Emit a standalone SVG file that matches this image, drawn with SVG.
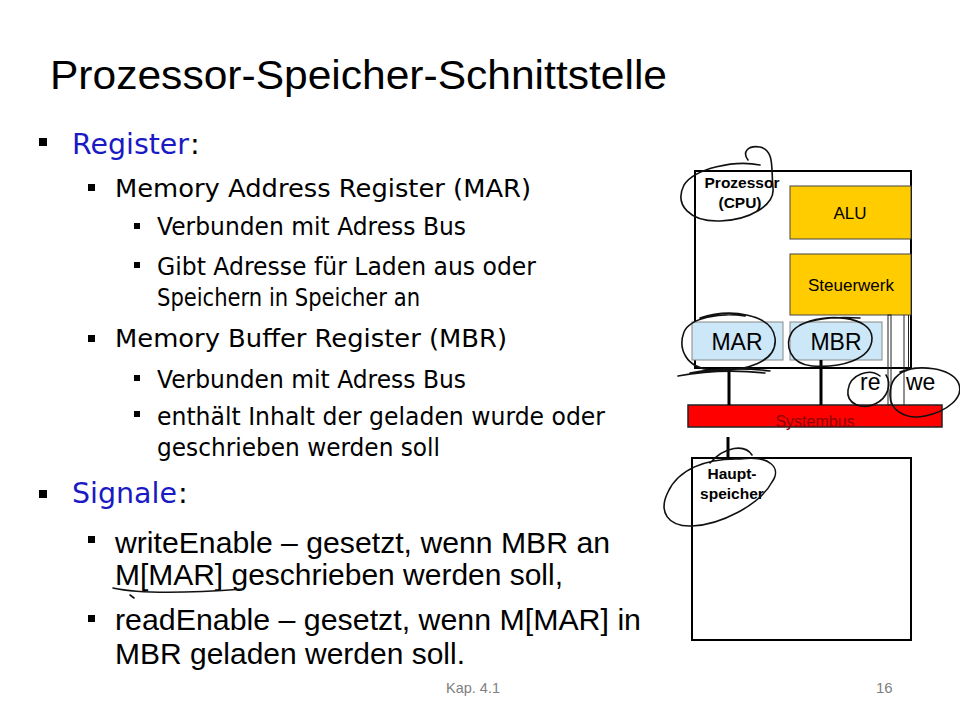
<svg xmlns="http://www.w3.org/2000/svg" width="960" height="720" viewBox="0 0 960 720">
<style>
.title{font-family:"Liberation Sans",Arial,sans-serif;font-size:40px;fill:#000}
.l1{font-family:"DejaVu Sans",Verdana,sans-serif;font-size:29px;fill:#000}
.blue{fill:#1a1ac4}
.l2{font-family:"DejaVu Sans",Verdana,sans-serif;font-size:25px;fill:#000}
.l3{font-family:"DejaVu Sans",Verdana,sans-serif;font-size:24px;fill:#000}
.sg{font-family:"Liberation Sans",Arial,sans-serif;font-size:30px;fill:#000}
.foot{font-family:"Liberation Sans",Arial,sans-serif;font-size:15px;fill:#808080}
.lbl{font-family:"Liberation Sans",Arial,sans-serif;fill:#000;text-anchor:middle}
.bold{font-weight:bold;font-size:15.5px}
.unit{fill:#ffcc00;stroke:#444;stroke-width:1}
.reg{fill:#cce7f7;stroke:#888;stroke-width:1}
.box{fill:#fff;stroke:#000;stroke-width:2}
.wire{stroke:#000;stroke-width:3;fill:none}
.thin{stroke:#222;stroke-width:1;fill:none}
.ink{stroke:#111;stroke-width:1.6;fill:none;stroke-linecap:round}
</style>
<rect width="960" height="720" fill="#fff"/>

<g id="slide-text">
<text class="title" x="50" y="89" textLength="617" lengthAdjust="spacingAndGlyphs">Prozessor-Speicher-Schnittstelle</text>
<rect x="39" y="138" width="8" height="8" fill="#000"/>
<text class="l1 blue" x="72" y="154" textLength="117" lengthAdjust="spacingAndGlyphs">Register</text>
<text class="l1" x="190" y="154">:</text>
<rect x="88" y="184" width="7" height="7" fill="#000"/>
<text class="l2" x="115" y="197" textLength="416" lengthAdjust="spacingAndGlyphs">Memory  Address  Register (MAR)</text>
<rect x="134" y="223" width="6" height="6" fill="#000"/>
<text class="l3" x="157" y="235" textLength="309" lengthAdjust="spacingAndGlyphs">Verbunden mit Adress Bus</text>
<rect x="134" y="262" width="6" height="6" fill="#000"/>
<text class="l3" x="157" y="275" textLength="379" lengthAdjust="spacingAndGlyphs">Gibt Adresse für Laden aus oder</text>
<text class="l3" x="157" y="306" textLength="263" lengthAdjust="spacingAndGlyphs">Speichern in Speicher an</text>
<rect x="88" y="335" width="7" height="7" fill="#000"/>
<text class="l2" x="115" y="347" textLength="392" lengthAdjust="spacingAndGlyphs">Memory  Buffer  Register (MBR)</text>
<rect x="134" y="375" width="6" height="6" fill="#000"/>
<text class="l3" x="157" y="388" textLength="309" lengthAdjust="spacingAndGlyphs">Verbunden mit Adress Bus</text>
<rect x="134" y="411" width="6" height="6" fill="#000"/>
<text class="l3" x="157" y="425" textLength="448" lengthAdjust="spacingAndGlyphs">enthält Inhalt der geladen wurde oder</text>
<text class="l3" x="157" y="456" textLength="283" lengthAdjust="spacingAndGlyphs">geschrieben werden soll</text>
<rect x="39" y="490" width="8" height="8" fill="#000"/>
<text class="l1 blue" x="72" y="503" textLength="105" lengthAdjust="spacingAndGlyphs">Signale</text>
<text class="l1" x="178" y="503">:</text>
<rect x="88" y="536" width="7" height="7" fill="#000"/>
<text class="sg" x="115" y="553" textLength="495" lengthAdjust="spacingAndGlyphs">writeEnable – gesetzt, wenn MBR an</text>
<text class="sg" x="115" y="585" textLength="448" lengthAdjust="spacingAndGlyphs">M[MAR] geschrieben werden soll,</text>
<rect x="88" y="615" width="7" height="7" fill="#000"/>
<text class="sg" x="115" y="630" textLength="526" lengthAdjust="spacingAndGlyphs">readEnable – gesetzt, wenn M[MAR] in</text>
<text class="sg" x="115" y="664" textLength="350" lengthAdjust="spacingAndGlyphs">MBR geladen werden soll.</text>
<text class="foot" x="446" y="693" textLength="54" lengthAdjust="spacingAndGlyphs">Kap. 4.1</text>
<text class="foot" x="876" y="693">16</text>
</g>

<g id="cpu">
<rect class="box" x="695" y="171" width="216" height="197"/>
<text class="lbl bold" x="742" y="188">Prozessor</text>
<text class="lbl bold" x="740" y="208">(CPU)</text>
</g>
<g id="alu">
<rect class="unit" x="790" y="186" width="121" height="53"/>
<text class="lbl" x="850" y="219" font-size="17">ALU</text>
</g>
<g id="steuerwerk">
<rect class="unit" x="790" y="254" width="121" height="61"/>
<text class="lbl" x="851" y="291" font-size="17">Steuerwerk</text>
</g>
<g id="mar">
<rect class="reg" x="692" y="322" width="91" height="38"/>
<text class="lbl" x="737" y="350" font-size="23">MAR</text>
</g>
<g id="mbr">
<rect class="reg" x="790" y="322" width="92" height="38"/>
<text class="lbl" x="836" y="350" font-size="23">MBR</text>
</g>
<g id="systembus">
<rect x="688" y="405" width="254" height="22" fill="#ff0000" stroke="#222" stroke-width="1.5"/>
<text class="lbl" x="815" y="427" font-size="16" style="fill:#8b0000">Systembus</text>
</g>
<g id="hauptspeicher">
<rect class="box" x="692" y="458" width="219" height="182"/>
<text class="lbl bold" x="732" y="479">Haupt-</text>
<text class="lbl bold" x="732" y="499">speicher</text>
</g>
<g id="signals">
<text x="860" y="390" font-family="Liberation Sans, Arial, sans-serif" font-size="23">re</text>
<text x="906" y="390" font-family="Liberation Sans, Arial, sans-serif" font-size="23">we</text>
</g>

<g id="connectors">
<line class="wire" x1="729" y1="368" x2="729" y2="405"/>
<line class="wire" x1="821" y1="360" x2="821" y2="405"/>
<line class="wire" x1="728" y1="437" x2="728" y2="458"/>
<rect class="thin" x="888" y="315" width="3" height="90" fill="#fff"/>
<line class="thin" x1="904" y1="315" x2="904" y2="405"/>
<line class="thin" x1="908.5" y1="315" x2="908.5" y2="368"/>
</g>

<g id="annotations">
<path class="ink" d="M 760 165 C 735 160, 695 168, 684 185 C 674 205, 690 222, 720 221 C 750 220, 775 205, 773 188 C 771 170, 775 150, 760 147 C 748 145, 742 152, 748 160"/>
<path class="ink" d="M 700 318 C 730 308, 772 314, 775 338 C 778 362, 745 372, 712 370 C 685 368, 678 348, 684 332 C 690 318, 720 312, 745 316"/>
<path class="ink" d="M 678 376 Q 720 368 765 373 M 690 373 Q 730 366 770 371"/>
<path class="ink" d="M 800 325 C 825 312, 872 316, 872 338 C 872 360, 840 368, 812 366 C 790 364, 784 345, 792 332 C 800 320, 830 316, 860 318"/>
<path class="ink" d="M 880 376 C 870 368, 850 374, 848 390 C 846 404, 862 410, 875 404 C 888 398, 892 384, 886 375"/>
<path class="ink" d="M 900 372 C 920 364, 950 368, 958 382 C 966 398, 945 412, 925 416 C 905 420, 890 410, 890 395 C 890 382, 895 372, 915 368"/>
<path class="ink" d="M 752 455 C 745 444, 725 446, 710 463 M 740 459 C 770 455, 782 468, 772 482 C 760 505, 720 525, 692 526 C 668 527, 658 512, 668 492 C 678 470, 705 458, 740 459"/>
<path class="ink" d="M 113 588 C 140 594, 190 593, 243 589 M 130 595 L 134 598"/>
</g>
</svg>
